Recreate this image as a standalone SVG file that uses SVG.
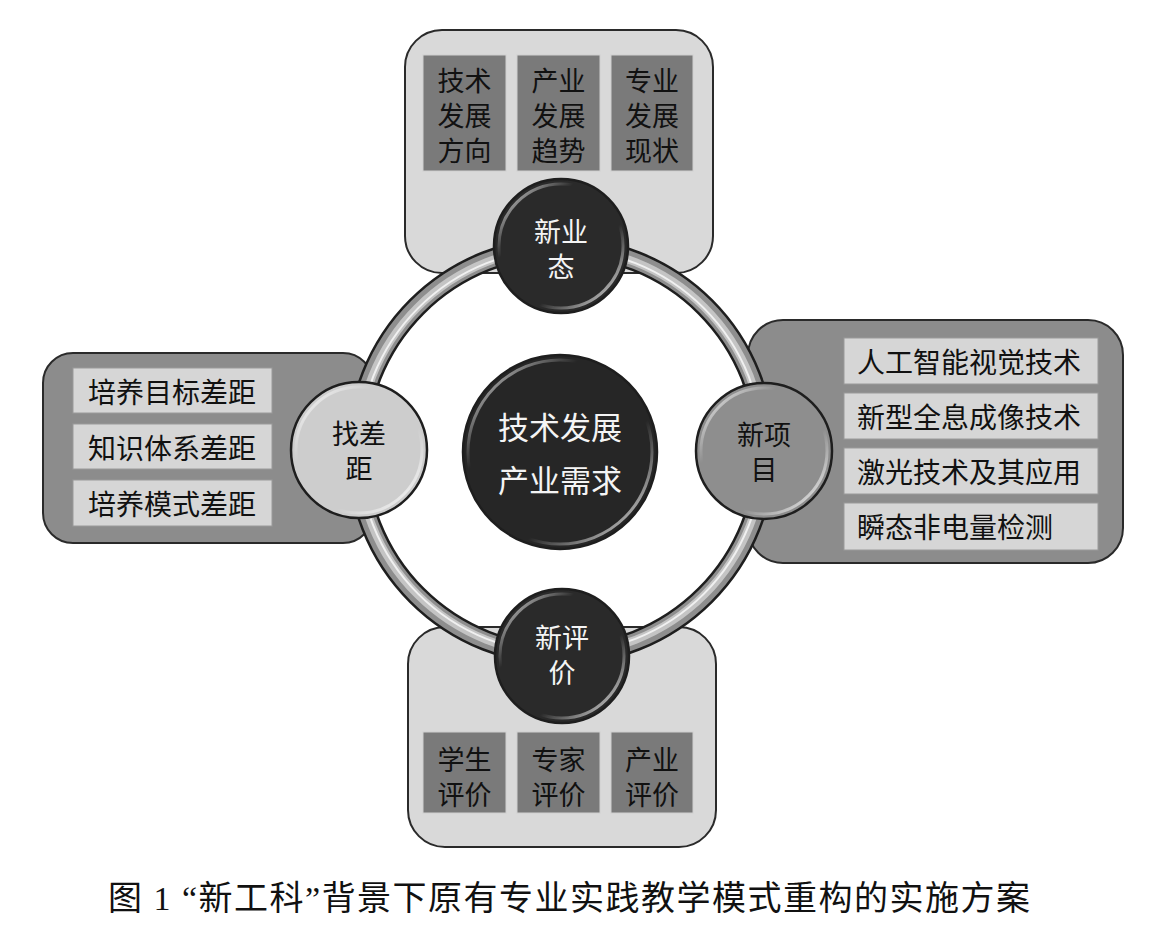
<svg xmlns="http://www.w3.org/2000/svg" width="1164" height="931" viewBox="0 0 1164 931">
<style>
.t{font-family:"Noto Sans CJK SC","Noto Sans",sans-serif;font-size:27px;text-anchor:middle;dominant-baseline:central;fill:#111}
.tl{text-anchor:start;font-size:28px}
.w{fill:#f4f4f4}
.panelL{fill:#d9d9d9;stroke:#2a2a2a;stroke-width:2}
.panelD{fill:#8c8c8c;stroke:#2a2a2a;stroke-width:2}
.boxD{fill:#7a7a7a;stroke:#d0d0d0;stroke-width:1}
.boxL{fill:#d6d6d6;stroke:#9a9a9a;stroke-width:1}
.ring{stroke-width:2.5;stroke:#1e1e1e}
.hl{fill:none;stroke:url(#hl);stroke-width:3}
</style>
<defs>
<linearGradient id="hl" x1="0" y1="0" x2="1" y2="1">
<stop offset="0" stop-color="#fff" stop-opacity="0.9"/>
<stop offset="0.3" stop-color="#fff" stop-opacity="0"/>
<stop offset="0.65" stop-color="#fff" stop-opacity="0"/>
<stop offset="1" stop-color="#fff" stop-opacity="0.95"/>
</linearGradient>
</defs>
<rect width="1164" height="931" fill="#fff"/>

<g id="panel-top">
<rect class="panelL" x="405" y="30" width="308" height="243" rx="37"/>
<rect class="boxD" x="423" y="55" width="83" height="116"/>
<rect class="boxD" x="517" y="55" width="83" height="116"/>
<rect class="boxD" x="611" y="55" width="82" height="116"/>
<text class="t" x="464.5" y="79">技术</text><text class="t" x="464.5" y="114">发展</text><text class="t" x="464.5" y="149">方向</text>
<text class="t" x="558.5" y="79">产业</text><text class="t" x="558.5" y="114">发展</text><text class="t" x="558.5" y="149">趋势</text>
<text class="t" x="652" y="79">专业</text><text class="t" x="652" y="114">发展</text><text class="t" x="652" y="149">现状</text>
</g>

<g id="panel-left">
<rect class="panelD" x="43" y="353" width="330" height="190" rx="30"/>
<rect class="boxL" x="73" y="368" width="199" height="45"/>
<rect class="boxL" x="73" y="424" width="199" height="45"/>
<rect class="boxL" x="73" y="480" width="199" height="46"/>
<text class="t" x="172" y="391" style="font-size:28px">培养目标差距</text>
<text class="t" x="172" y="447" style="font-size:28px">知识体系差距</text>
<text class="t" x="172" y="503" style="font-size:28px">培养模式差距</text>
</g>

<g id="panel-right">
<rect class="panelD" x="748" y="320" width="375" height="243" rx="35"/>
<rect class="boxL" x="844" y="338" width="254" height="46"/>
<rect class="boxL" x="844" y="393" width="254" height="46"/>
<rect class="boxL" x="844" y="448" width="254" height="46"/>
<rect class="boxL" x="844" y="503" width="254" height="47"/>
<text class="t tl" x="857" y="361">人工智能视觉技术</text>
<text class="t tl" x="857" y="416">新型全息成像技术</text>
<text class="t tl" x="857" y="471">激光技术及其应用</text>
<text class="t tl" x="857" y="526">瞬态非电量检测</text>
</g>

<g id="panel-bottom">
<rect class="panelL" x="408" y="627" width="308" height="220" rx="37"/>
<rect class="boxD" x="423" y="732" width="83" height="81"/>
<rect class="boxD" x="517" y="732" width="83" height="81"/>
<rect class="boxD" x="611" y="732" width="82" height="81"/>
<text class="t" x="464.5" y="758">学生</text><text class="t" x="464.5" y="793">评价</text>
<text class="t" x="558.5" y="758">专家</text><text class="t" x="558.5" y="793">评价</text>
<text class="t" x="652" y="758">产业</text><text class="t" x="652" y="793">评价</text>
</g>

<g id="connectors">
<circle cx="561" cy="451" r="204" fill="none" stroke="#1e1e1e" stroke-width="21"/>
<circle cx="561" cy="451" r="204" fill="none" stroke="#8e8e8e" stroke-width="16"/>
<circle cx="561" cy="451" r="203" fill="none" stroke="#c4c4c4" stroke-width="8"/>
<circle cx="561" cy="451" r="202" fill="none" stroke="#f0f0f0" stroke-width="2"/>
</g>

<g id="node-center">
<circle class="ring" cx="560" cy="452" r="97" fill="#262626"/>
<circle class="hl" cx="560" cy="452" r="92"/>
<text class="t w" x="560" y="425" style="font-size:31px">技术发展</text>
<text class="t w" x="560" y="478" style="font-size:31px">产业需求</text>
</g>

<g id="node-top">
<circle class="ring" cx="561" cy="246" r="67" fill="#2a2a2a"/>
<circle class="hl" cx="561" cy="246" r="62"/>
<text class="t w" x="561" y="230">新业</text>
<text class="t w" x="561" y="265">态</text>
</g>

<g id="node-left">
<circle class="ring" cx="359" cy="450" r="68" fill="#cdcdcd"/>
<circle class="hl" cx="359" cy="450" r="63"/>
<text class="t" x="359" y="432">找差</text>
<text class="t" x="359" y="467">距</text>
</g>

<g id="node-right">
<circle class="ring" cx="764" cy="451" r="68" fill="#8e8e8e"/>
<circle class="hl" cx="764" cy="451" r="63"/>
<text class="t" x="764" y="433">新项</text>
<text class="t" x="764" y="468">目</text>
</g>

<g id="node-bottom">
<circle class="ring" cx="562" cy="656" r="67" fill="#2a2a2a"/>
<circle class="hl" cx="562" cy="656" r="62"/>
<text class="t w" x="562" y="636">新评</text>
<text class="t w" x="562" y="671">价</text>
</g>

<g id="caption">
<text x="108" y="898" textLength="922" lengthAdjust="spacing" style="font-family:'Liberation Serif','Noto Sans CJK SC',serif;font-size:34px;dominant-baseline:central;fill:#111">图 1 “新工科”背景下原有专业实践教学模式重构的实施方案</text>
</g>
</svg>
